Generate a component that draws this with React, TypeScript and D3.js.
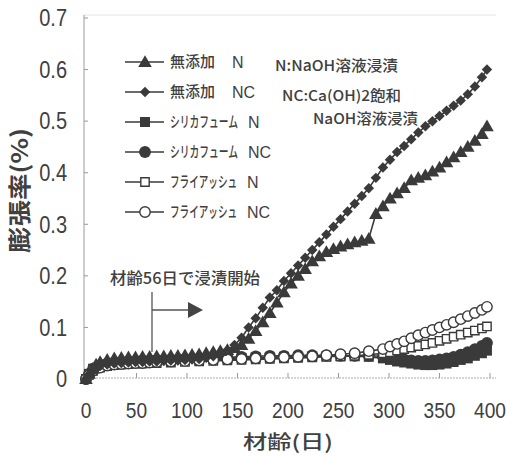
import React from 'react'
import * as d3 from 'd3'

// 測定日 (材齢, 日)
const daysA = [0, 3, 7, 10, 14, 21, 28, 35, 42, 49, 56, 63, 70, 77, 84, 91, 98, 105, 112, 119, 126, 133, 140, 147, 154, 161, 168, 175, 182, 189, 196, 203, 210, 217, 224, 231, 238, 245, 252, 259, 266, 273, 280, 287, 294, 301, 308, 315, 322, 329, 336, 343, 350, 357, 364, 371, 378, 385, 392, 397]
const daysB = [0, 3, 7, 14, 21, 28, 35, 42, 49, 56, 63, 70, 84, 98, 112, 126, 140, 154, 168, 182, 196, 210, 224, 238, 252, 266, 280, 294, 301, 308, 315, 322, 329, 336, 343, 350, 357, 364, 371, 378, 385, 392, 397]

// 膨張率 (%)
const plainN = [0, 0.01, 0.02, 0.028, 0.033, 0.037, 0.04, 0.041, 0.042, 0.042, 0.043, 0.043, 0.044, 0.044, 0.045, 0.045, 0.046, 0.047, 0.048, 0.05, 0.052, 0.054, 0.056, 0.06, 0.066, 0.078, 0.093, 0.11, 0.128, 0.148, 0.168, 0.185, 0.2, 0.213, 0.228, 0.238, 0.246, 0.252, 0.257, 0.261, 0.265, 0.268, 0.272, 0.32, 0.335, 0.35, 0.36, 0.37, 0.385, 0.39, 0.395, 0.402, 0.41, 0.42, 0.43, 0.44, 0.45, 0.462, 0.475, 0.49]
const plainNC = [0, 0.008, 0.015, 0.02, 0.025, 0.028, 0.03, 0.031, 0.032, 0.033, 0.033, 0.034, 0.034, 0.035, 0.036, 0.036, 0.037, 0.038, 0.039, 0.041, 0.044, 0.05, 0.056, 0.066, 0.08, 0.1, 0.118, 0.138, 0.158, 0.172, 0.19, 0.205, 0.22, 0.235, 0.25, 0.265, 0.28, 0.295, 0.31, 0.325, 0.34, 0.355, 0.37, 0.39, 0.41, 0.425, 0.44, 0.452, 0.465, 0.478, 0.49, 0.5, 0.51, 0.52, 0.53, 0.54, 0.552, 0.567, 0.585, 0.6]
const silicaN = [0, 0.01, 0.02, 0.025, 0.028, 0.03, 0.031, 0.032, 0.033, 0.033, 0.034, 0.035, 0.036, 0.037, 0.038, 0.039, 0.04, 0.041, 0.042, 0.042, 0.043, 0.043, 0.044, 0.044, 0.044, 0.044, 0.043, 0.04, 0.037, 0.034, 0.032, 0.03, 0.028, 0.027, 0.027, 0.028, 0.03, 0.033, 0.037, 0.04, 0.045, 0.05, 0.055]
const silicaNC = [0, 0.01, 0.02, 0.026, 0.03, 0.032, 0.033, 0.034, 0.035, 0.036, 0.036, 0.037, 0.038, 0.039, 0.04, 0.041, 0.042, 0.043, 0.044, 0.045, 0.045, 0.046, 0.046, 0.046, 0.045, 0.045, 0.045, 0.044, 0.042, 0.04, 0.038, 0.036, 0.035, 0.035, 0.036, 0.038, 0.04, 0.043, 0.047, 0.052, 0.058, 0.064, 0.07]
const flyashN = [0, 0.008, 0.016, 0.022, 0.025, 0.027, 0.028, 0.029, 0.03, 0.03, 0.031, 0.031, 0.032, 0.033, 0.034, 0.035, 0.036, 0.037, 0.038, 0.039, 0.04, 0.041, 0.042, 0.043, 0.044, 0.045, 0.047, 0.05, 0.052, 0.055, 0.058, 0.061, 0.064, 0.067, 0.07, 0.074, 0.078, 0.082, 0.086, 0.09, 0.094, 0.098, 0.102]
const flyashNC = [0, 0.008, 0.016, 0.022, 0.026, 0.028, 0.029, 0.03, 0.031, 0.031, 0.032, 0.033, 0.034, 0.035, 0.036, 0.037, 0.038, 0.039, 0.04, 0.041, 0.042, 0.043, 0.044, 0.046, 0.048, 0.05, 0.054, 0.058, 0.063, 0.068, 0.073, 0.079, 0.085, 0.09, 0.095, 0.1, 0.105, 0.11, 0.116, 0.122, 0.128, 0.134, 0.14]

const xTicks = [0, 50, 100, 150, 200, 250, 300, 350, 400]
const yTicks = [0, 0.1, 0.2, 0.3, 0.4, 0.5, 0.6, 0.7]

const ink = '#3a3a3a'
const txt = '#404040'

type Series = { name: string; tag: string; squeeze: number; tagX: number; days: number[]; values: number[]; shape: string; open: boolean }

const series: Series[] = [
  { name: '無添加', tag: 'N', squeeze: 1, tagX: 232, days: daysA, values: plainN, shape: 'triangle', open: false },
  { name: '無添加', tag: 'NC', squeeze: 1, tagX: 232, days: daysA, values: plainNC, shape: 'diamond', open: false },
  { name: 'シリカフューム', tag: 'N', squeeze: 0.65, tagX: 248, days: daysB, values: silicaN, shape: 'square', open: false },
  { name: 'シリカフューム', tag: 'NC', squeeze: 0.65, tagX: 248, days: daysB, values: silicaNC, shape: 'circle', open: false },
  { name: 'フライアッシュ', tag: 'N', squeeze: 0.64, tagX: 247, days: daysB, values: flyashN, shape: 'square', open: true },
  { name: 'フライアッシュ', tag: 'NC', squeeze: 0.64, tagX: 247, days: daysB, values: flyashNC, shape: 'circle', open: true },
]

const drawOrder = [2, 3, 4, 5, 0, 1]

function Marker({ shape, open, x, y }: { shape: string; open: boolean; x: number; y: number }) {
  const fill = open ? '#fff' : ink
  const sw = open ? 1.4 : 0
  let p: string | null = null
  let tr = `translate(${x},${y})`
  if (shape === 'triangle') {
    p = d3.symbol(d3.symbolTriangle, 80)()
    tr = `translate(${x},${y + 1})`
  } else if (shape === 'diamond') {
    p = d3.symbol(d3.symbolSquare, 55)()
    tr = `translate(${x},${y}) rotate(45)`
  } else if (shape === 'square') {
    p = d3.symbol(d3.symbolSquare, open ? 70 : 100)()
  } else {
    p = d3.symbol(d3.symbolCircle, open ? 85 : 110)()
  }
  return <path d={p || ''} transform={tr} fill={fill} stroke={ink} strokeWidth={sw} />
}

export default function App() {
  const x = d3.scaleLinear().domain([0, 400]).range([86, 490])
  const y = d3.scaleLinear().domain([0, 0.7]).range([379, 18])
  const left = 84
  const right = 496
  const top = 15
  const bottom = 378

  const line = d3.line<[number, number]>().x(d => x(d[0])).y(d => y(d[1]))

  const numFont = '"Liberation Sans", Arial, sans-serif'
  const jpFont = '"Noto Sans CJK JP", sans-serif'

  return (
    <svg width={519} height={457} style={{ position: 'absolute', left: 0, top: 0 }}>
      <rect width={519} height={457} fill="#fff" />

      {/* 枠と目盛 */}
      <line x1={left} x2={right} y1={top} y2={top} stroke="#e2e2e2" strokeWidth={1} />
      <line x1={left} x2={left} y1={top} y2={bottom} stroke="#9a9a9a" strokeWidth={1} />
      <line x1={left} x2={right} y1={bottom} y2={bottom} stroke="#aaa" strokeWidth={1} strokeDasharray="2,1" />
      {yTicks.map(t => (
        <g key={'y' + t}>
          <line x1={left} x2={left + 4} y1={y(t)} y2={y(t)} stroke="#999" />
          <text transform={`translate(67,${y(t)}) scale(0.87,1)`} dy="0.36em" textAnchor="end" fontFamily={numFont} fontSize={23} fill={txt}>
            {t === 0 ? '0' : t.toFixed(1)}
          </text>
        </g>
      ))}
      {xTicks.map(t => (
        <g key={'x' + t}>
          <line x1={x(t)} x2={x(t)} y1={bottom} y2={bottom - 5} stroke="#999" />
          <text transform={`translate(${x(t)},418) scale(0.87,1)`} textAnchor="middle" fontFamily={numFont} fontSize={22} fill={txt}>
            {t}
          </text>
        </g>
      ))}

      <text x={243} y={449} textLength={90} lengthAdjust="spacingAndGlyphs" fontFamily={jpFont} fontSize={19} fontWeight={500} fill={txt}>材齢(日)</text>
      <text transform="translate(28,253) rotate(-90)" textLength={125} lengthAdjust="spacingAndGlyphs" fontFamily={jpFont} fontSize={23} fontWeight={700} fill={txt}>膨張率(%)</text>

      {/* データ */}
      {drawOrder.map(i => {
        const s = series[i]
        const pts: [number, number][] = s.days.map((d, k) => [d, s.values[k]])
        return (
          <g key={'s' + i}>
            <path d={line(pts) || ''} fill="none" stroke={ink} strokeWidth={1.6} />
            {pts.map((p, k) => (
              <Marker key={k} shape={s.shape} open={s.open} x={x(p[0])} y={y(p[1])} />
            ))}
          </g>
        )
      })}

      {/* 凡例 */}
      {series.map((s, i) => {
        const ly = 62 + i * 30
        return (
          <g key={'l' + i}>
            <line x1={125} x2={164} y1={ly} y2={ly} stroke={ink} strokeWidth={1.6} />
            <Marker shape={s.shape} open={s.open} x={145} y={ly} />
            <text transform={`translate(170,${ly}) scale(${s.squeeze},1)`} dy="0.36em" fontFamily={jpFont} fontSize={15} fontWeight={500} fill={txt}>{s.name}</text>
            <text x={s.tagX} y={ly} dy="0.36em" fontFamily={numFont} fontSize={16} fill={txt}>{s.tag}</text>
          </g>
        )
      })}

      <text x={275} y={66} dy="0.36em" textLength={123} lengthAdjust="spacingAndGlyphs" fontFamily={jpFont} fontSize={15} fontWeight={500} fill={txt}>N:NaOH溶液浸漬</text>
      <text x={282} y={96} dy="0.36em" textLength={119} lengthAdjust="spacingAndGlyphs" fontFamily={jpFont} fontSize={14.5} fontWeight={500} fill={txt}>NC:Ca(OH)2飽和</text>
      <text x={313} y={119} dy="0.36em" textLength={105} lengthAdjust="spacingAndGlyphs" fontFamily={jpFont} fontSize={14.5} fontWeight={500} fill={txt}>NaOH溶液浸漬</text>

      {/* 浸漬開始の矢印 */}
      <text x={110} y={278} dy="0.36em" textLength={150} lengthAdjust="spacingAndGlyphs" fontFamily={jpFont} fontSize={16} fontWeight={500} fill={txt}>材齢56日で浸漬開始</text>
      <line x1={152} x2={152} y1={292} y2={352} stroke="#555" strokeWidth={1.3} />
      <line x1={152} x2={190} y1={310} y2={310} stroke="#555" strokeWidth={1.3} />
      <path d="M188,302 L203,310 L188,318 Z" fill="#444" />
    </svg>
  )
}
